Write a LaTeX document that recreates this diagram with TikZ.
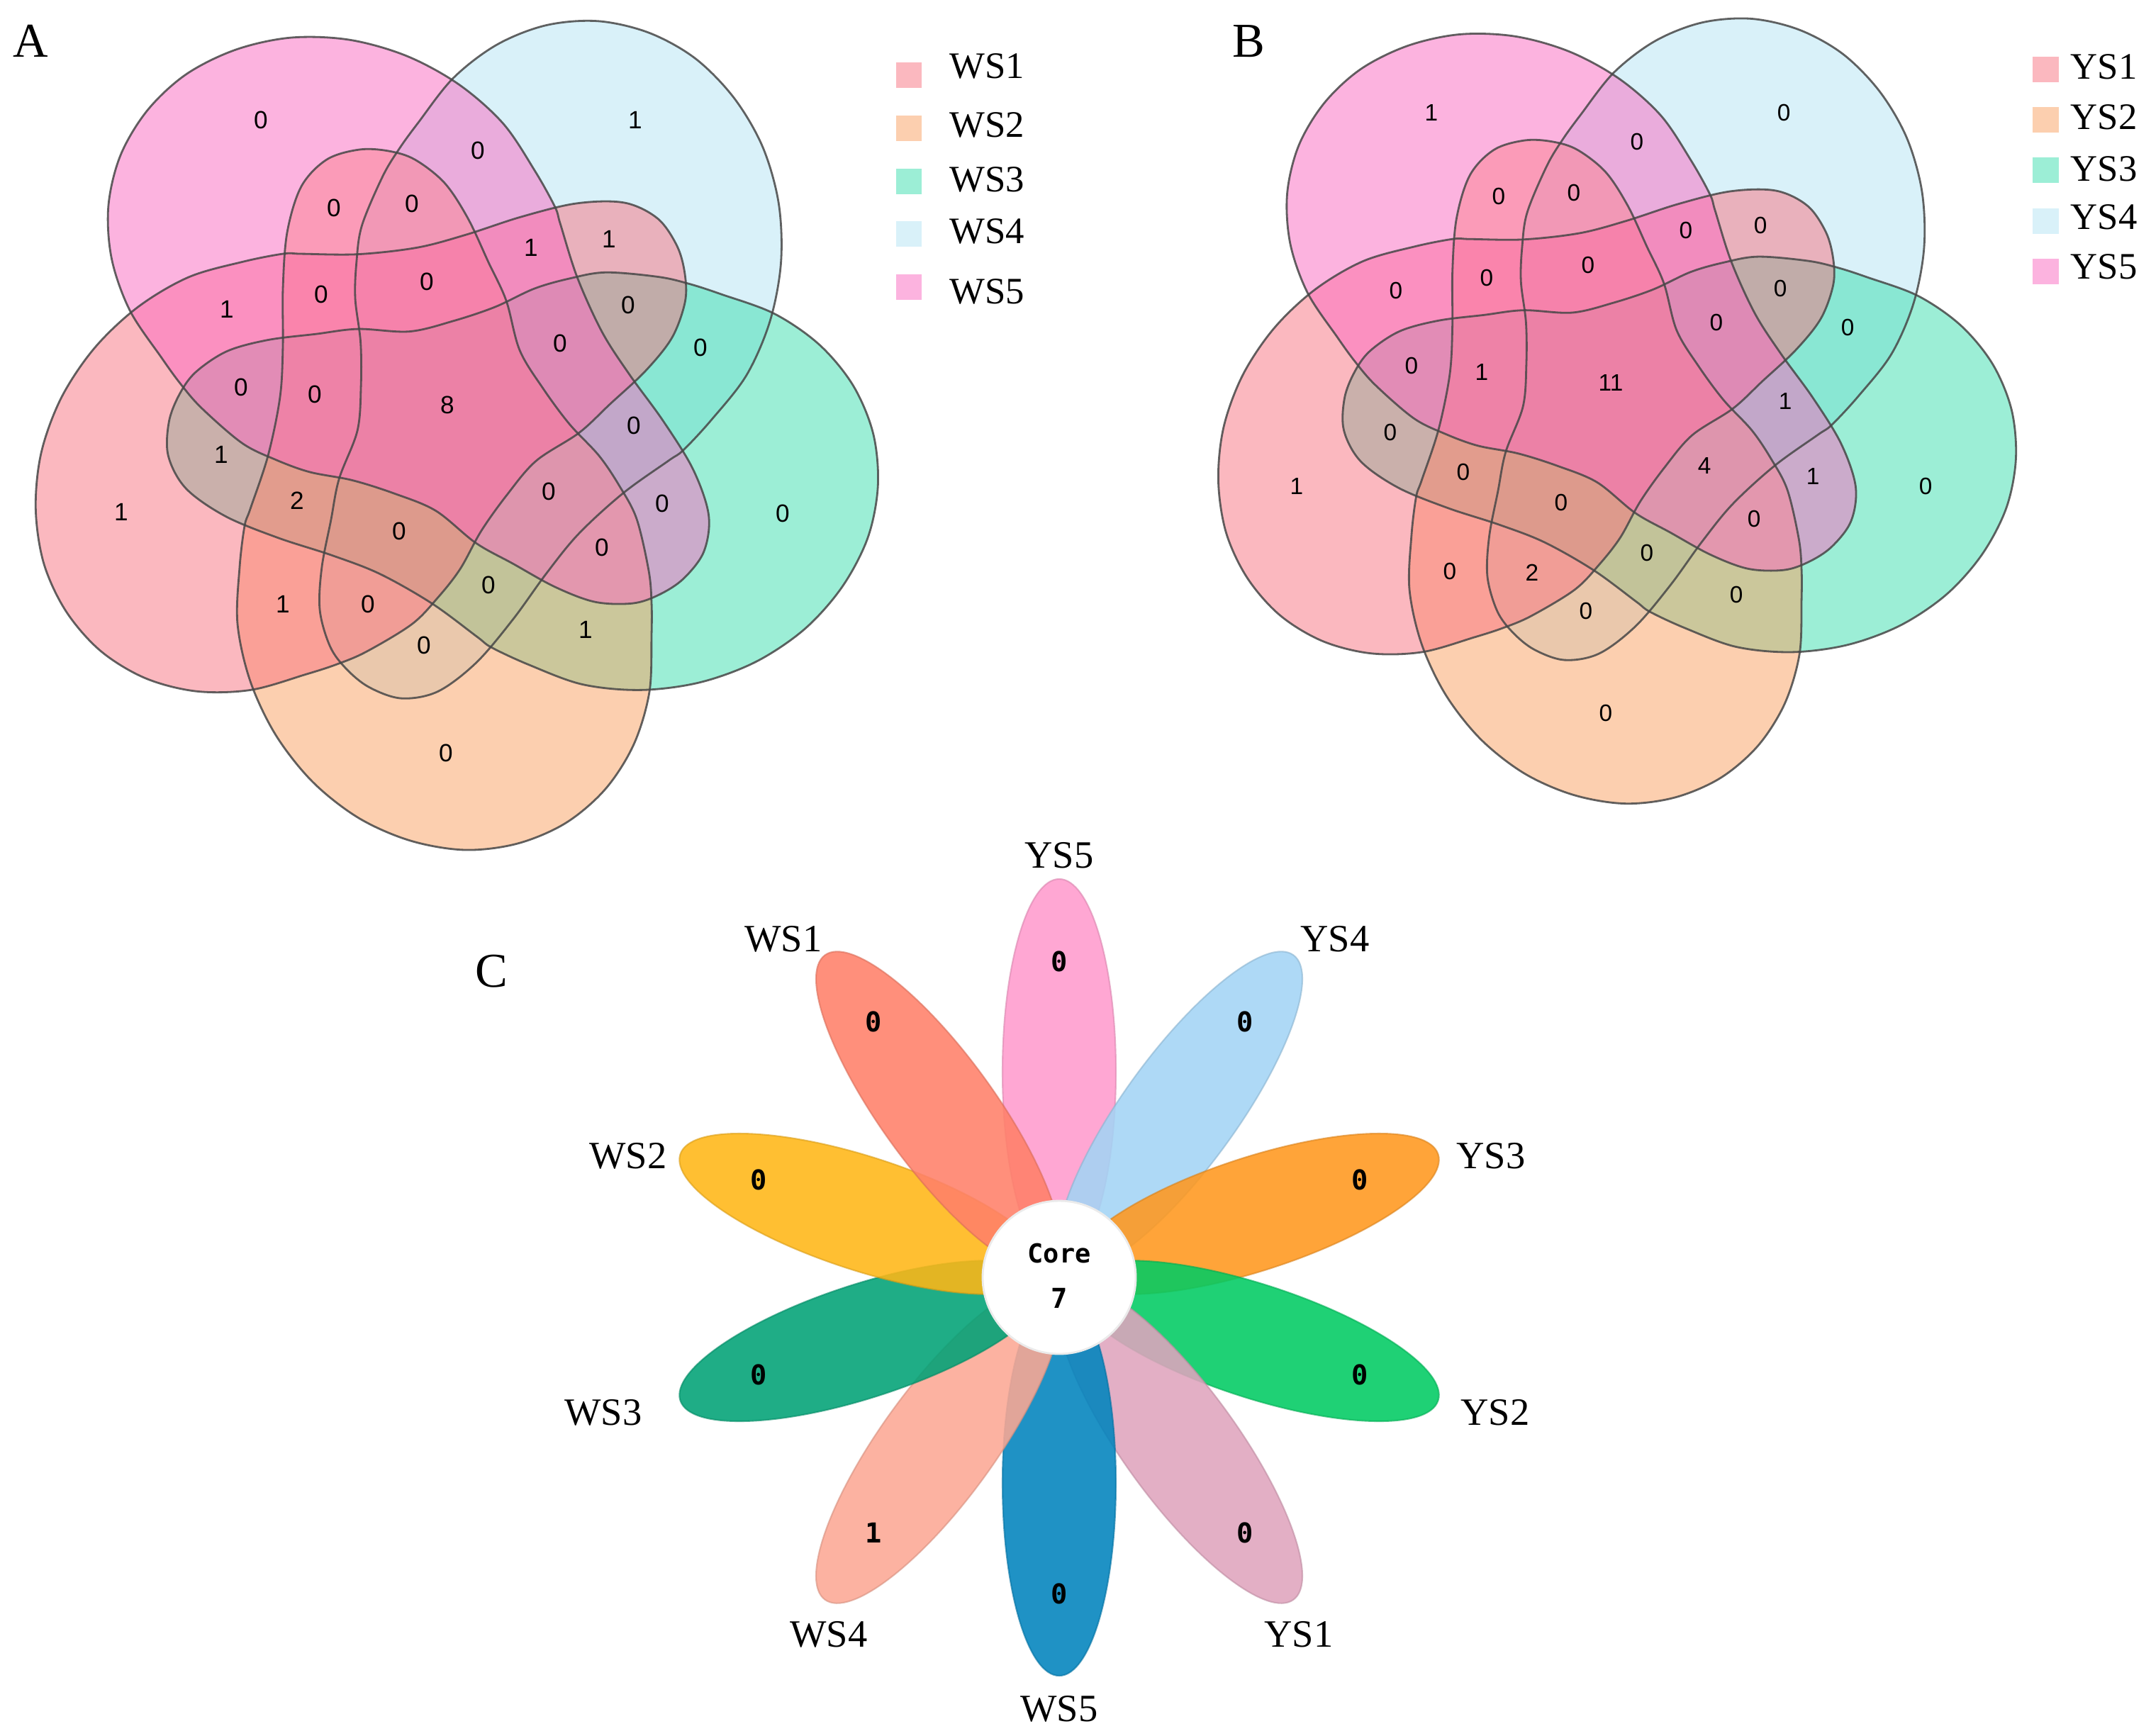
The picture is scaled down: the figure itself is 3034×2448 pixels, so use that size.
\documentclass[tikz,border=0pt]{standalone}
\usepackage{fontspec}
\setmainfont{Liberation Serif}
\newfontfamily\numfont{Liberation Sans}
\newfontfamily\corefont{DejaVu Sans Mono}
\usetikzlibrary{positioning}

\definecolor{setred}{RGB}{249,115,129}
\definecolor{setorange}{RGB}{251,161,97}
\definecolor{setgreen}{RGB}{59,223,175}
\definecolor{setblue}{RGB}{181,229,245}
\definecolor{setpink}{RGB}{251,105,193}

\definecolor{pYSfive}{RGB}{255,155,205}
\definecolor{pYSfour}{RGB}{163,212,245}
\definecolor{pYSthree}{RGB}{255,152,30}
\definecolor{pYStwo}{RGB}{0,203,98}
\definecolor{pYSone}{RGB}{224,164,190}
\definecolor{pWSfive}{RGB}{0,132,190}
\definecolor{pWSfour}{RGB}{252,168,148}
\definecolor{pWSthree}{RGB}{0,162,118}
\definecolor{pWStwo}{RGB}{255,183,22}
\definecolor{pWSone}{RGB}{255,128,105}

% one set of the five-set diagram, big end pointing down
\newcommand{\pearshape}[1]{\path[#1] plot[smooth cycle, tension=0.55] coordinates {
  (282,308) (279,388) (257,462) (217,525) (161,573) (93,602) (19,611) (-58,598)
  (-131,566) (-196,515) (-248,449) (-284,373) (-302,292) (-299,212) (-292,154)
  (-284,130) (-259,55) (-242,-28) (-238,-100) (-238,-180) (-232,-260) (-212,-325)
  (-176,-363) (-130,-377) (-89,-375) (-52,-363) (-10,-330) (23,-280) (52,-218)
  (77,-164) (96,-94) (129,-40) (166,10) (208,55) (237,98) (261,144) (278,217)
  (282,262)};}

\begin{document}
\begin{tikzpicture}[x=0.01cm, y=-0.01cm,
    setfill/.style={fill=#1, fill opacity=0.5, draw=none},
    setline/.style={draw=black!72, line width=0.8pt, draw opacity=0.85},
    numA/.style={font=\numfont\fontsize{10}{12}\selectfont, inner sep=0pt},
    numB/.style={font=\numfont\fontsize{9.5}{11}\selectfont, inner sep=0pt},
    legbox/.style={rectangle, fill=#1, fill opacity=0.5, minimum size=10.5pt, inner sep=0pt},
    legtext/.style={font=\fontsize{15}{18}\selectfont, inner sep=0pt, anchor=west},
    panel/.style={font=\fontsize{19.5}{22}\selectfont, inner sep=0pt},
    petal/.style={fill=#1, fill opacity=0.88, draw=#1!85!black, draw opacity=0.6, line width=0.6pt},
    petalnum/.style={font=\corefont\bfseries\fontsize{11}{13}\selectfont, inner sep=0pt},
    petallab/.style={font=\fontsize{15.5}{18}\selectfont, inner sep=0pt}]
  \useasboundingbox (0,0) rectangle (3034,2448);
  \fill[white] (0,0) rectangle (3034,2448);

  % ---- A ----
  \node[panel] (labA) at (43,58) {A};
  \foreach \k/\col in {2/setblue,1/setgreen,0/setorange,4/setred,3/setpink}{
    \begin{scope}[shift={(637,588)}, rotate=72*\k]
      \pearshape{setfill=\col}
    \end{scope}}
  \foreach \k in {0,...,4}{
    \begin{scope}[shift={(637,588)}, rotate=72*\k]
      \pearshape{setline}
    \end{scope}}
  \foreach \x/\y/\v [count=\i] in {368/169/0, 896/169/1, 674/212/0, 471/293/0, 581/287/0,
      749/349/1, 859/337/1, 602/397/0, 320/436/1, 453/415/0, 886/430/0, 988/490/0,
      790/484/0, 340/546/0, 444/556/0, 631/571/8, 894/600/0, 312/641/1, 171/722/1,
      419/706/2, 774/693/0, 934/710/0, 1104/724/0, 563/749/0, 849/772/0, 399/852/1,
      519/852/0, 689/825/0, 826/888/1, 598/910/0, 629/1062/0}
    \node[numA] (a\i) at (\x,\y) {\v};

  \foreach \by/\ty/\col/\lab [count=\i] in {106/93/setred/WS1, 181/176/setorange/WS2,
      256/253/setgreen/WS3, 330/326/setblue/WS4, 405/411/setpink/WS5}{
    \node[legbox=\col] (wsbox\i) at (1282,\by) {};
    \node[legtext] (wstext\i) at (1339,\ty) {\lab};}

  % ---- B ----
  \node[panel] (labB) at (1761,58) {B};
  \foreach \k/\col in {2/setblue,1/setgreen,0/setorange,4/setred,3/setpink}{
    \begin{scope}[shift={(2274,555)}, rotate=72*\k, scale=0.947]
      \pearshape{setfill=\col}
    \end{scope}}
  \foreach \k in {0,...,4}{
    \begin{scope}[shift={(2274,555)}, rotate=72*\k, scale=0.947]
      \pearshape{setline}
    \end{scope}}
  \foreach \x/\y/\v [count=\i] in {2019/159/1, 2516/159/0, 2309/200/0, 2114/277/0,
      2220/272/0, 2378/325/0, 2483/318/0, 2240/374/0, 1969/410/0, 2097/392/0,
      2511/407/0, 2606/462/0, 2421/455/0, 1991/516/0, 2090/525/1, 2272/540/11,
      2518/566/1, 1961/610/0, 1829/686/1, 2064/666/0, 2404/657/4, 2557/672/1,
      2716/686/0, 2202/709/0, 2474/732/0, 2045/806/0, 2161/808/2, 2323/780/0,
      2449/839/0, 2237/862/0, 2265/1006/0}
    \node[numB] (b\i) at (\x,\y) {\v};

  \foreach \by/\ty/\col/\lab [count=\i] in {98/94/setred/YS1, 169/165/setorange/YS2,
      240/238/setgreen/YS3, 312/306/setblue/YS4, 383/376/setpink/YS5}{
    \node[legbox=\col] (ysbox\i) at (2885,\by) {};
    \node[legtext] (ystext\i) at (2920,\ty) {\lab};}

  % ---- C ----
  \node[panel] (labC) at (693,1370) {C};
  \foreach \ang/\col/\v/\nm in {90/pYSfive/0/ysv, 54/pYSfour/0/ysiv, 18/pYSthree/0/ysiii,
      -18/pYStwo/0/ysii, -54/pYSone/0/ysi, -90/pWSfive/0/wsv, -126/pWSfour/1/wsiv,
      -162/pWSthree/0/wsiii, 162/pWStwo/0/wsii, 126/pWSone/0/wsi}{
    \begin{scope}[shift={(1494,1802)}, rotate=\ang]
      \path[petal=\col] (290,0) ellipse [x radius=272, y radius=80];
      \node[petalnum] (\nm) at (446,0) {\v};
    \end{scope}}
  \node[circle, fill=white, draw=black!8, line width=0.8pt, minimum size=216*0.01cm,
        inner sep=0pt] (core) at (1494,1802) {};
  \node[petalnum, font=\corefont\bfseries\fontsize{10.5}{12}\selectfont] (coretext) at (1494,1768) {Core};
  \node[petalnum] (coreval) at (1494,1831) {7};

  \foreach \x/\y/\lab in {1494/1207/YS5, 1883/1325/YS4, 2103/1631/YS3, 2109/1993/YS2,
      1832/2306/YS1, 1494/2411/WS5, 1169/2306/WS4, 851/1993/WS3, 886/1631/WS2,
      1105/1325/WS1}
    \node[petallab] (lab\lab) at (\x,\y) {\lab};
\end{tikzpicture}
\end{document}
